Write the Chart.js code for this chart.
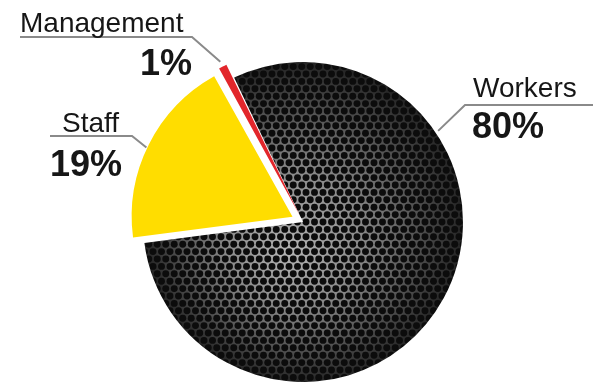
<!DOCTYPE html>
<html>
<head>
<meta charset="utf-8">
<script src="https://cdn.jsdelivr.net/npm/chart.js@4.4.0/dist/chart.umd.min.js"></script>
<style>
  html, body { margin: 0; padding: 0; background: #fff; }
  #wrap { width: 597px; height: 382px; }
</style>
</head>
<body>
<div id="wrap"><canvas id="myChart" width="597" height="382"></canvas></div>
<script>
// data
var categories = ["Workers", "Staff", "Management"];
var shares = [80, 19, 1];

var sliceColors = [null, "#FFDD00", "#E2262B"]; // workers gets the mesh texture
var sliceOffsets = [0, 47, 31];

// where the callout texts sit (at = fraction along the slice where the leader touches)
var calloutLayout = [
    { nameX: 473, nameY: 97,  pctX: 472, pctY: 138, lineFrom: 593, elbow: 465, lineY: 105, at: 0.283, gap: 3 },
    { nameX: 62,  nameY: 132, pctX: 50,  pctY: 176, lineFrom: 50,  elbow: 132, lineY: 136, at: 0.48,  gap: 0 },
    { nameX: 20,  nameY: 32,  pctX: 140, pctY: 75,  lineFrom: 20,  elbow: 192, lineY: 37,  at: 0.5,   gap: -2 }
];

var FONT = '"Liberation Sans", Arial, sans-serif';

var meshPattern = null;
function buildMesh(chart) {
    var area = chart.chartArea;
    var w = chart.width, h = chart.height;
    var cx = (area.left + area.right) / 2;
    var cy = (area.top + area.bottom) / 2;
    var c = document.createElement('canvas');
    c.width = w; c.height = h;
    var g = c.getContext('2d');
    var grad = g.createRadialGradient(cx - 15, cy + 30, 0, cx, cy, 168);
    grad.addColorStop(0, '#b4b4b4');
    grad.addColorStop(0.4, '#8a8a8a');
    grad.addColorStop(0.75, '#4a4a4a');
    grad.addColorStop(1, '#1c1c1c');
    g.fillStyle = grad;
    g.fillRect(0, 0, w, h);
    // honeycomb holes
    g.fillStyle = '#0c0c0c';
    var dx = 8.5, dy = 7.4;
    var row = 0;
    for (var y = 0; y < h + dy; y += dy) {
        for (var x = (row % 2) * dx / 2; x < w + dx; x += dx) {
            g.beginPath();
            g.arc(x, y, 3.45, 0, Math.PI * 2);
            g.fill();
        }
        row++;
    }
    return chart.ctx.createPattern(c, 'no-repeat');
}

function sliceFill(context) {
    var i = context.dataIndex;
    if (i !== 0) return sliceColors[i];
    var chart = context.chart;
    if (!chart.chartArea) return '#222';
    if (!meshPattern) meshPattern = buildMesh(chart);
    return meshPattern;
}

var calloutPlugin = {
    id: 'callouts',
    afterDatasetsDraw: function(chart) {
        var ctx = chart.ctx;
        var meta = chart.getDatasetMeta(0);
        var total = shares.reduce(function(a, b) { return a + b; }, 0);
        meta.data.forEach(function(arc, i) {
            var lay = calloutLayout[i];
            var p = arc.getProps(['x', 'y', 'startAngle', 'endAngle', 'outerRadius'], true);
            var span = p.endAngle - p.startAngle;
            var off = sliceOffsets[i] / 4;
            var fix = 1 - Math.sin(Math.min(Math.PI, span));
            var mid = (p.startAngle + p.endAngle) / 2;
            var a = p.startAngle + span * lay.at;
            // chart.js pushes the slice out by off*(1+fix) and grows it by off*fix
            var cx = p.x + Math.cos(mid) * off * (1 + fix);
            var cy = p.y + Math.sin(mid) * off * (1 + fix);
            var r = p.outerRadius + off * fix + lay.gap;
            var ax = cx + Math.cos(a) * r;
            var ay = cy + Math.sin(a) * r;

            ctx.save();
            ctx.strokeStyle = '#8a8a8a';
            ctx.lineWidth = 2;
            ctx.beginPath();
            ctx.moveTo(lay.lineFrom, lay.lineY);
            ctx.lineTo(lay.elbow, lay.lineY);
            ctx.lineTo(ax, ay);
            ctx.stroke();

            ctx.fillStyle = '#161616';
            ctx.textBaseline = 'alphabetic';
            ctx.textAlign = 'left';
            ctx.font = '28px ' + FONT;
            ctx.fillText(categories[i], lay.nameX, lay.nameY);
            ctx.font = 'bold 36px ' + FONT;
            ctx.fillText(Math.round(shares[i] / total * 100) + '%', lay.pctX, lay.pctY);
            ctx.restore();
        });
    }
};

var ctx = document.getElementById('myChart').getContext('2d');
var myChart = new Chart(ctx, {
    type: 'pie',
    data: {
        labels: categories,
        datasets: [{
            data: shares,
            backgroundColor: sliceFill,
            offset: sliceOffsets,
            borderWidth: 0
        }]
    },
    options: {
        responsive: false,
        animation: false,
        rotation: -25.5,
        radius: 160,
        layout: { padding: { left: 9, right: 0, top: 62, bottom: 0 } },
        plugins: {
            legend: { display: false },
            tooltip: { enabled: false }
        }
    },
    plugins: [calloutPlugin]
});
</script>
</body>
</html>
